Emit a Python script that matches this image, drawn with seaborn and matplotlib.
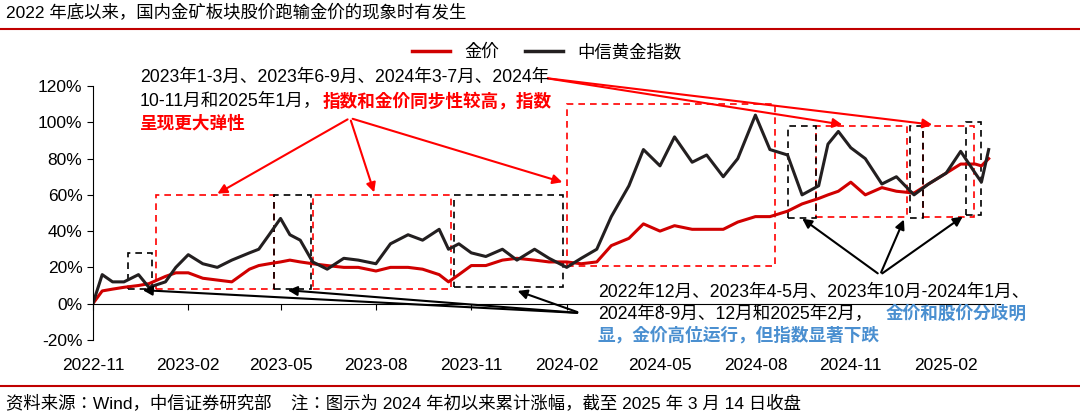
import matplotlib
matplotlib.use("Agg")
import matplotlib.pyplot as plt
import matplotlib.dates as mdates
from matplotlib import font_manager as fm
import seaborn as sns
import pandas as pd
import numpy as np

cjk = [f.name for f in fm.fontManager.ttflist if "CJK" in f.name]
pref = [n for n in ["Noto Sans CJK SC", "Noto Sans CJK JP", "Noto Sans CJK TC", "Noto Sans CJK KR"] if n in cjk] + cjk
plt.rcParams["font.family"] = ["Liberation Sans"] + pref[:1]
plt.rcParams["axes.unicode_minus"] = False

dates = ["2022-11-01","2022-11-10","2022-11-20","2022-12-01","2022-12-15","2022-12-25","2023-01-10","2023-01-20",
         "2023-02-01","2023-02-15","2023-03-01","2023-03-15","2023-04-01","2023-04-10","2023-04-20","2023-05-01",
         "2023-05-10","2023-05-20","2023-06-01","2023-06-15","2023-07-01","2023-07-15","2023-08-01","2023-08-15",
         "2023-09-01","2023-09-15","2023-10-01","2023-10-10","2023-10-20","2023-11-01","2023-11-15","2023-12-01",
         "2023-12-15","2024-01-01","2024-01-15","2024-02-01","2024-02-15","2024-03-01","2024-03-15","2024-04-01",
         "2024-04-15","2024-05-01","2024-05-15","2024-06-01","2024-06-15","2024-07-01","2024-07-15","2024-08-01",
         "2024-08-15","2024-09-01","2024-09-15","2024-10-01","2024-10-10","2024-10-20","2024-11-01","2024-11-15",
         "2024-12-01","2024-12-15","2025-01-01","2025-01-15","2025-02-01","2025-02-15","2025-03-01","2025-03-07",
         "2025-03-14"]
gold = [0, 7, 8, 9, 10, 11, 15, 17,
        17, 14, 13, 12, 19, 21, 22, 23,
        24, 23, 22, 21, 20, 20, 18, 20,
        20, 19, 16, 12, 16, 21, 21, 24,
        25, 24, 23, 23, 22, 23, 32, 36,
        44, 40, 43, 41, 41, 41, 45, 48,
        48, 51, 55, 58, 60, 62, 67, 60,
        64, 62, 61, 66, 72, 77, 77, 76,
        80]
index = [0, 16, 12, 12, 16, 9, 12, 20,
         27, 22, 20, 24, 28, 30, 38, 47,
         38, 35, 23, 19, 25, 24, 22, 33,
         38, 35, 41, 30, 33, 28, 26, 30,
         24, 30, 25, 20, 25, 30, 48, 65,
         85, 76, 92, 78, 82, 70, 80, 104,
         85, 82, 60, 65, 88, 95, 86, 80,
         66, 70, 60, 66, 72, 84, 72, 67,
         85]

df = pd.DataFrame({"date": pd.to_datetime(dates), "金价": gold, "中信黄金指数": index})
long = df.melt("date", var_name="series", value_name="v")

fig = plt.figure(figsize=(10.8, 4.16), dpi=100)
ax = fig.add_axes([0.086, 0.183, 0.84, 0.61])
sns.lineplot(data=long, x="date", y="v", hue="series", palette={"金价": "#d00000", "中信黄金指数": "#231f20"},
             hue_order=["金价", "中信黄金指数"], linewidth=2.2, ax=ax)
ax.set_ylim(-20, 120)
ax.set_xlim(pd.Timestamp("2022-11-01"), pd.Timestamp("2025-03-25"))
ax.set_yticks(range(-20, 121, 20))
ax.set_yticklabels([f"{t}%" for t in range(-20, 121, 20)], fontsize=12.5)
ax.xaxis.set_major_locator(mdates.MonthLocator(bymonth=[2, 5, 8, 11]))
ax.xaxis.set_major_formatter(mdates.DateFormatter("%Y-%m"))
ax.spines["bottom"].set_position(("data", 0))
ax.spines["top"].set_visible(False)
ax.spines["right"].set_visible(False)
ax.tick_params(axis="x", pad=35, labelsize=12.5, length=4)
ax.tick_params(axis="y", length=4)
ax.set_xlabel(""); ax.set_ylabel("")
leg = ax.legend(loc="upper center", bbox_to_anchor=(0.5, 1.23), ncol=2, frameon=False, fontsize=12.5,
                handlelength=2.2, columnspacing=1.5)
for l in leg.get_lines():
    l.set_linewidth(2.5)

def box(x0, x1, y0, y1, c):
    d0, d1 = mdates.date2num(pd.Timestamp(x0)), mdates.date2num(pd.Timestamp(x1))
    ax.add_patch(plt.Rectangle((d0, y0), d1 - d0, y1 - y0, fill=False, ls=(0, (4, 3)), lw=1.2, ec=c, clip_on=False))

red = "#ff0000"
for b in [("2023-01-01","2023-04-25",8,60),("2023-06-01","2023-10-12",8,60),("2024-02-01","2024-08-20",21,110),
          ("2024-09-28","2024-12-25",48,98),("2025-01-10","2025-02-28",48,98)]:
    box(*b, red)
for b in [("2022-12-05","2022-12-28",8,28),("2023-04-25","2023-05-30",8,60),("2023-10-15","2024-01-28",9,60),
          ("2024-09-01","2024-09-28",47,98),("2024-12-28","2025-01-10",47,98),("2025-02-20","2025-03-07",49,100)]:
    box(*b, "black")

def arrow(p0, p1, c):
    ax.annotate("", xy=p1, xycoords="figure pixels", xytext=p0, textcoords="figure pixels",
                arrowprops=dict(arrowstyle="-|>", color=c, lw=1.5, mutation_scale=14), annotation_clip=False)

H = 416
for t in [(215, 195), (375, 195), (565, 183)]:
    arrow((350, H - 118), (t[0], H - t[1]), red)
for t in [(845, 125), (935, 125)]:
    arrow((545, H - 78), (t[0], H - t[1]), red)
for t in [(140, 290), (285, 290), (515, 290)]:
    arrow((580, H - 313), (t[0], H - t[1]), "black")
for t in [(800, 217), (905, 217), (965, 215)]:
    arrow((880, H - 275), (t[0], H - t[1]), "black")

fs = 12.7
blue = "#4a8fd0"
fig.text(140/1080, 1 - 77/H, "2023年1-3月、2023年6-9月、2024年3-7月、2024年", fontsize=fs, va="center")
fig.text(140/1080, 1 - 101/H, "10-11月和2025年1月，", fontsize=fs, va="center")
fig.text(323/1080, 1 - 101/H, "指数和金价同步性较高，指数", fontsize=fs, va="center", color=red, weight="bold")
fig.text(140/1080, 1 - 124/H, "呈现更大弹性", fontsize=fs, va="center", color=red, weight="bold")
fig.text(598/1080, 1 - 292/H, "2022年12月、2023年4-5月、2023年10月-2024年1月、", fontsize=fs, va="center")
fig.text(598/1080, 1 - 314/H, "2024年8-9月、12月和2025年2月，", fontsize=fs, va="center")
fig.text(886/1080, 1 - 314/H, "金价和股价分歧明", fontsize=fs, va="center", color=blue, weight="bold")
fig.text(598/1080, 1 - 336/H, "显，金价高位运行，但指数显著下跌", fontsize=fs, va="center", color=blue, weight="bold")

fig.text(6/1080, 1 - 13/H, "2022 年底以来，国内金矿板块股价跑输金价的现象时有发生", fontsize=12.5, va="center")
fig.add_artist(plt.Line2D([0, 1], [1 - 29/H, 1 - 29/H], color="#c00000", lw=1.5))
fig.add_artist(plt.Line2D([0, 1], [1 - 386/H, 1 - 386/H], color="#c00000", lw=1.5))
fig.text(6/1080, 1 - 403/H, "资料来源：Wind，中信证券研究部    注：图示为 2024 年初以来累计涨幅，截至 2025 年 3 月 14 日收盘",
         fontsize=12.5, va="center")

fig.savefig("out.png", dpi=100)
